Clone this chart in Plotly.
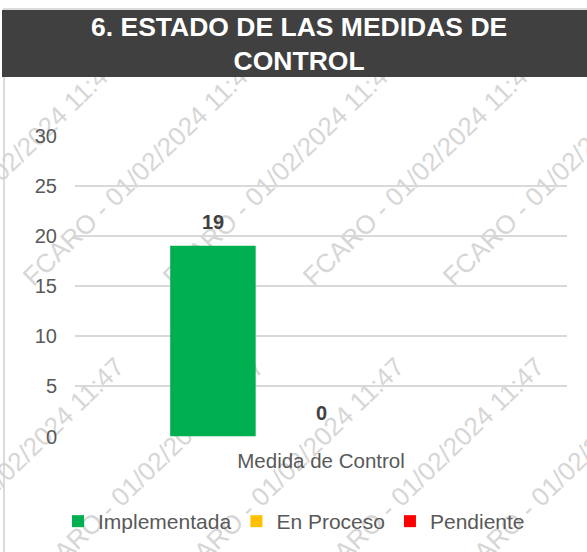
import plotly.graph_objects as go

# ---- data ----
categories = ["Medida de Control"]
series_names = ["Implementada", "En Proceso", "Pendiente"]
series_values = [19, 0, None]
series_colors = ["#00B050", "#FFC000", "#FF0000"]
y_ticks = [0, 5, 10, 15, 20, 25, 30]
title_text = "6. ESTADO DE LAS MEDIDAS DE<br>CONTROL"
watermark_text = "FCARO - 01/02/2024 11:47"

W, H = 587, 552
FONT = "Liberation Sans, Arial, sans-serif"


def px(x):
    return x / W


def py(y):
    return 1 - y / H


fig = go.Figure()
for name, val, col in zip(series_names, series_values, series_colors):
    fig.add_trace(go.Bar(
        name=name, x=categories, y=[val], marker_color=col,
        marker_line_width=0, hoverinfo="skip",
    ))

# data labels
n = len(series_names)
slot = 108
for i, (name, val) in enumerate(zip(series_names, series_values)):
    if val is None:
        continue
    fig.add_annotation(
        x=categories[0], y=val, xref="x", yref="y",
        text=f"<b>{val}</b>", showarrow=False,
        xshift=(i - (n - 1) / 2) * slot, yshift=24,
        font=dict(family=FONT, size=20, color="#404040"),
    )

shapes = []
# watermark (below data)
rowA = [(419 - 140 * k, 170) for k in range(-1, 5)]
rowB = [(5 + 140 * k, 470) for k in range(0, 6)]
for (cx, cy) in rowA + rowB:
    shapes.append(dict(
        type="line", xref="paper", yref="paper",
        x0=px(cx - 1), x1=px(cx + 1), y0=py(cy), y1=py(cy),
        line=dict(width=0, color="rgba(0,0,0,0)"), layer="below",
        label=dict(text=watermark_text, textangle=-44,
                   textposition="middle", xanchor="center", yanchor="middle",
                   padding=0,
                   font=dict(family=FONT, size=26, color="#d6d6d6")),
    ))
# chart border
shapes.append(dict(
    type="rect", xref="paper", yref="paper",
    x0=px(4), x1=px(620), y0=py(9), y1=py(600),
    line=dict(color="#d0d0d0", width=1.5), fillcolor="rgba(0,0,0,0)",
    layer="below",
))
# title bar
shapes.append(dict(
    type="rect", xref="paper", yref="paper",
    x0=px(2), x1=px(600), y0=py(10), y1=py(77),
    line=dict(width=0), fillcolor="#404040", layer="above",
))

fig.add_annotation(
    x=px(299), y=py(44), xref="paper", yref="paper",
    text=f"<b>{title_text}</b>", showarrow=False,
    xanchor="center", yanchor="middle", align="center",
    font=dict(family=FONT, size=26.5, color="#ffffff"),
)

fig.update_layout(
    width=W, height=H,
    margin=dict(l=0, r=0, t=0, b=0, pad=0, autoexpand=False),
    paper_bgcolor="#ffffff", plot_bgcolor="rgba(0,0,0,0)",
    barmode="group", bargap=0.341, bargroupgap=0.209,
    shapes=shapes,
    showlegend=True,
    legend=dict(
        orientation="h", x=px(58), xanchor="left", y=py(521.5), yanchor="middle",
        font=dict(family=FONT, size=21, color="#595959"),
        bgcolor="rgba(0,0,0,0)", traceorder="normal",
    ),
    xaxis=dict(
        domain=[px(75), px(567)], showgrid=False, zeroline=False,
        showline=False, ticks="", ticklabelstandoff=10, automargin=False,
        tickfont=dict(family=FONT, size=20.5, color="#595959"),
    ),
    yaxis=dict(
        domain=[py(436.5), py(135.5)], range=[0, 30], tickvals=y_ticks,
        showgrid=True, gridcolor="#d9d9d9", gridwidth=1.5, automargin=False,
        zeroline=False, showline=False, ticks="", ticklabelstandoff=17,
        tickfont=dict(family=FONT, size=20, color="#595959"),
    ),
)

fig.write_html(
    "out.html",
    config={"displayModeBar": False},
    post_script="document.body.style.margin='0';",
)
